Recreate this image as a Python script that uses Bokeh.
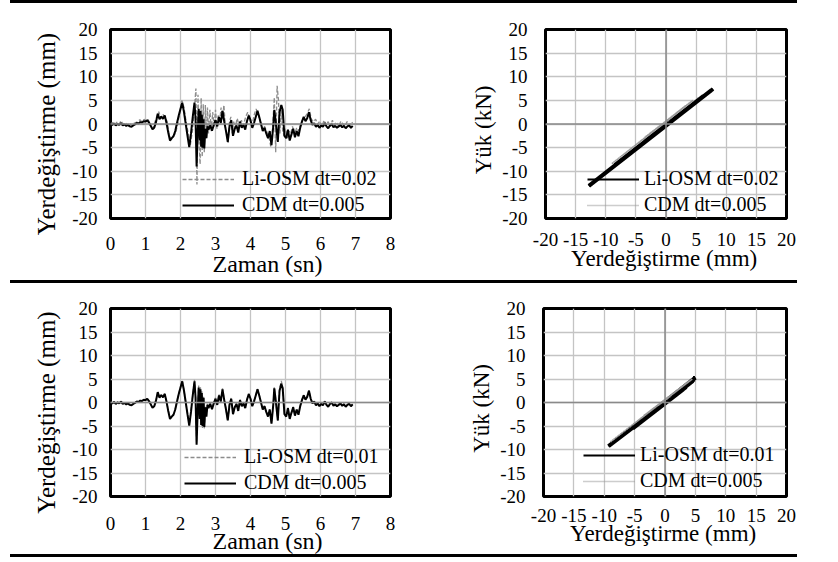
import math
from bokeh.plotting import figure
from bokeh.models import Span, Legend, LegendItem, Range1d, FixedTicker, Spacer
from bokeh.core.properties import value
from bokeh.layouts import column, row
from bokeh.embed import file_html
from bokeh.resources import INLINE

FONT = "Liberation Serif"

# ---------------- data ----------------
# CDM dt=0.005 displacement time history (mm)
cdm_t = [0.00, 0.05, 0.10, 0.15, 0.20, 0.25, 0.30, 0.35, 0.40, 0.45, 0.50, 0.55, 0.60, 0.65, 0.70,
         0.75, 0.80, 0.85, 0.90, 0.95, 1.00, 1.05, 1.10, 1.15, 1.20, 1.25, 1.30, 1.35, 1.40, 1.45,
         1.50, 1.55, 1.60, 1.65, 1.70, 1.75, 1.80, 1.85, 1.90, 1.95, 2.00, 2.05, 2.10, 2.15, 2.20,
         2.25, 2.30, 2.35, 2.40, 2.43, 2.46, 2.49, 2.52, 2.55, 2.57, 2.59, 2.61, 2.63, 2.66, 2.68,
         2.71, 2.74, 2.77, 2.80, 2.85, 2.90, 2.95, 3.00, 3.05, 3.10, 3.15, 3.20, 3.25, 3.30, 3.35,
         3.40, 3.45, 3.50, 3.55, 3.60, 3.65, 3.70, 3.75, 3.80, 3.85, 3.90, 3.95, 4.00, 4.05, 4.10,
         4.15, 4.20, 4.25, 4.30, 4.35, 4.40, 4.45, 4.50, 4.55, 4.60, 4.65, 4.68, 4.72, 4.78, 4.83,
         4.88, 4.92, 4.97, 5.02, 5.07, 5.12, 5.17, 5.22, 5.27, 5.32, 5.37, 5.42, 5.47, 5.52, 5.57,
         5.62, 5.67, 5.72, 5.77, 5.82, 5.87, 5.92, 5.97, 6.02, 6.07, 6.12, 6.17, 6.22, 6.27, 6.32,
         6.37, 6.42, 6.47, 6.52, 6.57, 6.62, 6.67, 6.72, 6.77, 6.82, 6.87, 6.92]
cdm_d = [0.0, -0.2, 0.1, -0.3, 0.0, -0.2, 0.2, -0.3, -0.1, -0.4, -0.2, -0.5, -0.6, -0.3, -0.1,
         0.2, 0.1, 0.4, 0.3, 0.6, 0.5, 0.8, 0.3, -0.4, -1.1, -0.8, 0.4, 2.2, 1.0, 1.6,
         1.1, 1.8, 0.2, -1.8, -3.5, -3.0, -2.6, -1.5, 0.2, 1.8, 3.2, 4.5, 2.5, 0.0, -2.5,
         -4.9, -2.0, 1.5, 4.5, 1.0, -9.0, -2.0, 3.2, -3.5, 2.8, -4.8, 2.0, -5.0, 1.0, -5.2,
         -1.0, -3.0, -0.5, -1.2, -0.3, -1.4, -0.2, 0.8, -0.5, 1.5, 0.2, 2.8, 0.5, -1.5, -3.8,
         -0.5, 0.8, -2.5, -1.0, -0.3, -1.8, 0.5, -0.8, -0.2, -1.2, 0.6, 1.8, 0.8, -0.8, 0.2,
         1.5, 2.8, 1.5, 0.0, -1.5, -0.8, -2.0, -3.0, -1.5, -4.5, -0.5, 3.0, 0.5, -3.8, 2.5,
         4.0, 3.0, -2.5, -3.0, -1.2, -3.5, -2.2, -1.0, -2.8, -1.5, -2.6, -0.8, 0.5, 1.5, 0.6,
         1.2, 2.5, 0.8, -0.2, 0.2, -0.6, -0.2, -0.8, -0.3, -0.6, 0.2, -0.5, -0.9, -0.3, 0.0,
         -0.7, -0.4, -0.8, -0.5, -0.2, -0.7, -0.4, -0.9, -0.5, -0.3, -0.8, -0.4]

# Li-OSM dt=0.02 displacement time history (mm)
osm02_t = [0.00, 0.06, 0.12, 0.18, 0.24, 0.30, 0.36, 0.42, 0.48, 0.54, 0.60, 0.66, 0.72, 0.78, 0.84,
           0.90, 0.96, 1.02, 1.08, 1.14, 1.20, 1.26, 1.32, 1.38, 1.44, 1.50, 1.56, 1.62, 1.68, 1.74,
           1.80, 1.86, 1.92, 1.98, 2.04, 2.10, 2.16, 2.22, 2.28, 2.34, 2.40, 2.44, 2.47, 2.50, 2.53,
           2.56, 2.59, 2.62, 2.65, 2.68, 2.71, 2.74, 2.77, 2.80, 2.84, 2.88, 2.92, 2.96, 3.00, 3.04,
           3.08, 3.12, 3.16, 3.20, 3.24, 3.28, 3.32, 3.36, 3.40, 3.44, 3.48, 3.52, 3.56, 3.62, 3.68,
           3.74, 3.80, 3.86, 3.92, 3.98, 4.04, 4.10, 4.16, 4.22, 4.28, 4.34, 4.40, 4.46, 4.52, 4.58,
           4.63, 4.68, 4.72, 4.76, 4.80, 4.84, 4.88, 4.92, 4.96, 5.00, 5.05, 5.10, 5.15, 5.20, 5.26,
           5.32, 5.38, 5.44, 5.50, 5.56, 5.62, 5.68, 5.74, 5.80, 5.86, 5.92, 5.98, 6.04, 6.10, 6.16,
           6.22, 6.28, 6.34, 6.40, 6.46, 6.52, 6.58, 6.64, 6.70, 6.76, 6.82, 6.88, 6.92]
osm02_d = [0.0, 0.3, -0.2, 0.4, -0.1, 0.7, 0.0, 0.3, -0.2, 0.2, -0.4, 0.1, 0.3, 0.5, 0.9,
           0.4, 1.0, 0.6, 0.9, -0.2, -1.2, 0.2, 1.5, 2.6, 1.2, 2.0, 1.5, 0.5, -2.5, -3.2,
           -2.4, -2.0, 0.0, 2.5, 5.0, 3.5, 0.5, -2.0, -4.5, -1.5, 3.5, 7.5, -12.8, 6.2, -4.0,
           -8.5, 5.5, -7.0, 4.2, -6.0, 4.0, -3.0, 3.5, -2.0, 3.0, -1.5, 2.5, -0.5, 3.0, -1.0,
           2.0, 0.5, 3.5, 1.0, 4.0, -0.5, -2.0, -4.0, 0.5, 1.5, -2.0, 0.5, -0.8, 1.2, -0.5,
           0.8, -0.3, 1.5, 2.5, 1.0, -0.5, 1.8, 3.2, 2.0, 0.5, -1.0, -0.5, -1.5, -2.5, -4.8,
           -1.0, 5.6, -6.0, 8.1, 5.0, -2.0, 3.0, -1.5, -2.5, -1.0, -3.0, -1.5, -2.0, -0.5, -2.2,
           -0.8, -1.5, 0.2, 1.0, 1.5, 2.2, 3.2, 1.0, 0.5, 1.0, 0.0, 0.6, -0.5, 0.8, -0.2,
           0.5, -0.6, 0.8, -0.2, 0.4, -0.6, 0.6, 0.0, -0.4, 0.5, -0.3, 0.4, 0.2]

# Li-OSM dt=0.01 displacement time history (mm)
osm01_t = cdm_t
osm01_d = [0.0, -0.1, 0.1, -0.2, 0.1, -0.2, 0.3, -0.2, -0.1, -0.3, -0.2, -0.4, -0.5, -0.3, 0.0,
           0.2, 0.2, 0.4, 0.3, 0.6, 0.6, 0.8, 0.3, -0.4, -1.0, -0.8, 0.5, 2.3, 1.1, 1.6,
           1.2, 1.9, 0.3, -1.7, -3.4, -3.0, -2.5, -1.4, 0.3, 1.9, 3.3, 4.6, 2.6, 0.1, -2.4,
           -4.8, -1.9, 1.6, 4.8, 1.2, -8.6, -1.8, 3.6, -3.2, 3.4, -4.5, 2.4, -5.4, 1.3, -5.5,
           -0.8, -2.8, -0.3, -1.0, -0.2, -1.3, 0.0, 1.0, -0.4, 1.7, 0.4, 3.0, 0.6, -1.4, -3.9,
           -0.4, 1.0, -2.4, -0.9, -0.2, -1.7, 0.6, -0.7, -0.1, -1.1, 0.7, 1.9, 0.9, -0.7, 0.3,
           1.6, 2.9, 1.6, 0.1, -1.4, -0.7, -1.9, -2.9, -1.4, -4.4, -0.4, 3.3, 0.6, -3.9, 2.8,
           4.6, 3.1, -2.4, -2.9, -1.1, -3.4, -2.1, -0.9, -2.7, -1.4, -2.5, -0.7, 0.6, 1.6, 0.7,
           1.3, 2.6, 0.9, -0.1, 0.3, -0.5, -0.1, -0.7, -0.2, -0.5, 0.3, -0.4, -0.8, -0.2, 0.1,
           -0.6, -0.3, -0.7, -0.4, -0.1, -0.6, -0.3, -0.8, -0.4, -0.2, -0.7, -0.3]

# Load - displacement paths (displacement mm, load kN)
hyst_osm02_d = [0.0, 0.8, -0.5, 1.0, -1.2, 2.3, -3.6, 4.6, -5.0, 7.5, -12.8, 6.2, -8.5, 5.5, -7.0,
                4.2, -4.0, 3.5, -2.0, 2.8, -4.5, 5.6, -6.0, 7.8, -3.5, 2.5, -1.0, 0.8, -0.5]
hyst_osm02_f = [0.0, 0.5, -0.8, 0.8, -1.4, 2.0, -3.8, 4.3, -5.3, 7.1, -13.1, 5.9, -8.7, 5.2, -7.3,
                3.9, -4.3, 3.2, -2.3, 2.5, -4.8, 5.3, -6.3, 7.4, -3.8, 2.2, -1.3, 0.5, -0.8]

hyst_cdm_d = [0.0, 1.1, -1.1, 2.2, -3.5, 4.5, -4.9, 4.5, -9.0, 3.2, -5.2, 2.8, -3.8, 2.8, -4.2,
              4.0, -3.5, 2.5, -0.9, 0.4]
hyst_cdm_f = [0.3, 1.6, -0.6, 2.8, -2.8, 5.0, -4.3, 5.0, -8.4, 3.8, -4.6, 3.4, -3.2, 3.4, -3.6,
              4.6, -2.9, 3.1, -0.3, 0.9]

hyst_osm01_d = [0.0, 0.8, -1.2, 2.3, -3.6, 4.6, -5.0, 5.0, -9.3, 3.5, -5.3, 3.0, -4.0, 2.9, -4.5,
                4.8, -3.6, 2.6, -1.0, 0.0]
hyst_osm01_f = [0.0, 0.6, -1.4, 2.1, -3.8, 4.6, -5.2, 5.3, -9.3, 3.3, -5.5, 2.8, -4.2, 2.7, -4.7,
                4.9, -3.8, 2.4, -1.2, -0.1]

# axis ticks and labels
y_ticks = [-20, -15, -10, -5, 0, 5, 10, 15, 20]
y_tick_labels = ["-20", "-15", "-10", "-5", "0", "5", "10", "15", "20"]
t_ticks = [0, 1, 2, 3, 4, 5, 6, 7, 8]
t_tick_labels = ["0", "1", "2", "3", "4", "5", "6", "7", "8"]
d_ticks = [-20, -15, -10, -5, 0, 5, 10, 15, 20]
d_tick_labels = ["-20", "-15", "-10", "-5", "0", "5", "10", "15", "20"]

ts_xlabel = "Zaman (sn)"
ts_ylabel = "Yerdeğiştirme (mm)"
hy_xlabel = "Yerdeğiştirme  (mm)"
hy_ylabel = "Yük  (kN)"

GRID = "#c4c4c4"
AXIS0 = "#8a8a8a"
TICK_FS = "19px"


def base_fig(w, h, bl, br, bt, bb, xr, xticks):
    p = figure(width=w, height=h, min_border_left=bl, min_border_right=br,
               min_border_top=bt, min_border_bottom=bb,
               x_range=Range1d(*xr), y_range=Range1d(-20, 20),
               output_backend="svg", toolbar_location=None)
    p.background_fill_color = "white"
    p.border_fill_color = "white"
    p.outline_line_color = "black"
    p.outline_line_width = 3
    p.xaxis.ticker = FixedTicker(ticks=xticks)
    p.yaxis.ticker = FixedTicker(ticks=y_ticks)
    p.xgrid.ticker = FixedTicker(ticks=xticks)
    p.ygrid.ticker = FixedTicker(ticks=y_ticks)
    p.xaxis.visible = False
    p.yaxis.visible = False
    p.grid.grid_line_color = GRID
    p.grid.grid_line_width = 1.3
    return p


def textglyph(p, xs, ys, texts, xoff, yoff, align, size, angle=0.0):
    p.text(x=xs, y=ys, text=texts, x_offset=xoff, y_offset=yoff, angle=angle,
           text_align=align, text_baseline="middle", text_font=value(FONT),
           text_font_size=value(size), text_color="black", level="overlay")


def add_legend(p, items, loc, standoff):
    lg = Legend(items=items, location=loc, background_fill_alpha=0, border_line_color=None,
                label_text_font=FONT, label_text_font_size="20px", label_text_color="black",
                glyph_width=52, glyph_height=20, label_height=20, spacing=3,
                padding=0, margin=0, label_standoff=standoff)
    p.add_layout(lg)


def ts_plot(h, bt, bb, osm_t, osm_d, osm_label, loc, tick_dy, title_dy):
    p = base_fig(419, h, 110, 29, bt, bb, (0, 8), t_ticks)
    p.add_layout(Span(location=0, dimension="width", line_color=AXIS0, line_width=1.5))
    r1 = p.line(osm_t, osm_d, line_color="#8c8c8c", line_width=1.3, line_dash="4 2")
    r2 = p.line(cdm_t, cdm_d, line_color="black", line_width=2)
    add_legend(p, [LegendItem(label=osm_label, renderers=[r1]),
                   LegendItem(label="CDM dt=0.005", renderers=[r2])], loc, 8)
    n = len(t_ticks)
    textglyph(p, t_ticks, [y_ticks[0]] * n, t_tick_labels, 0, tick_dy, "center", TICK_FS)
    textglyph(p, [t_ticks[0]] * len(y_ticks), y_ticks, y_tick_labels, -13, 0, "right", TICK_FS)
    textglyph(p, [4], [y_ticks[0]], [ts_xlabel], 17, title_dy, "center", "24px")
    textglyph(p, [t_ticks[0]], [0], [ts_ylabel], -64, 10, "center", "25px", math.pi / 2)
    return p


def hy_plot(h, bl, fw, bt, bb, hd, hf, osm_label, loc, tick_dy, title_dy):
    p = base_fig(419, h, bl, 419 - bl - fw, bt, bb, (-20, 20), d_ticks)
    p.add_layout(Span(location=0, dimension="width", line_color=AXIS0, line_width=1.5))
    p.add_layout(Span(location=0, dimension="height", line_color=AXIS0, line_width=1.5))
    rl = p.line(hd, hf, line_color="black", line_width=2)
    p.line(hd, hf, line_color="black", line_width=4)
    r2 = p.line(hyst_cdm_d, hyst_cdm_f, line_color="#9a9a9a", line_width=1.6, line_dash="1 1")
    add_legend(p, [LegendItem(label=osm_label, renderers=[rl]),
                   LegendItem(label="CDM dt=0.005", renderers=[r2])], loc, 5)
    n = len(d_ticks)
    textglyph(p, d_ticks, [y_ticks[0]] * n, d_tick_labels, 0, tick_dy, "center", TICK_FS)
    textglyph(p, [d_ticks[0]] * len(y_ticks), y_ticks, y_tick_labels, -18, 0, "right", TICK_FS)
    textglyph(p, [0], [y_ticks[0]], [hy_xlabel], 1, title_dy, "center", "23px")
    textglyph(p, [d_ticks[0]], [0], [hy_ylabel], -62, 3, "center", "23px", math.pi / 2)
    return p


p1 = ts_plot(277, 25, 62, osm02_t, osm02_d, "Li-OSM dt=0.02", (72, 2), 25, 45)
p2 = hy_plot(277, 126, 241, 26, 60, hyst_osm02_d, hyst_osm02_f, "Li-OSM dt=0.02", (42, 2), 21, 40)
p3 = ts_plot(271, 25, 58, osm01_t, osm01_d, "Li-OSM dt=0.01", (74, 2), 27, 44)
p4 = hy_plot(271, 124, 243, 25, 53, hyst_osm01_d, hyst_osm01_f, "Li-OSM dt=0.01", (40, 4), 19, 37)


def hline():
    return Spacer(width=787, height=3, margin=(0, 0, 0, 10), styles={"background-color": "black"})


layout = column(hline(), row(p1, p2), hline(), row(p3, p4), hline(), spacing=0)

open("out.html", "w").write(file_html(layout, INLINE))
